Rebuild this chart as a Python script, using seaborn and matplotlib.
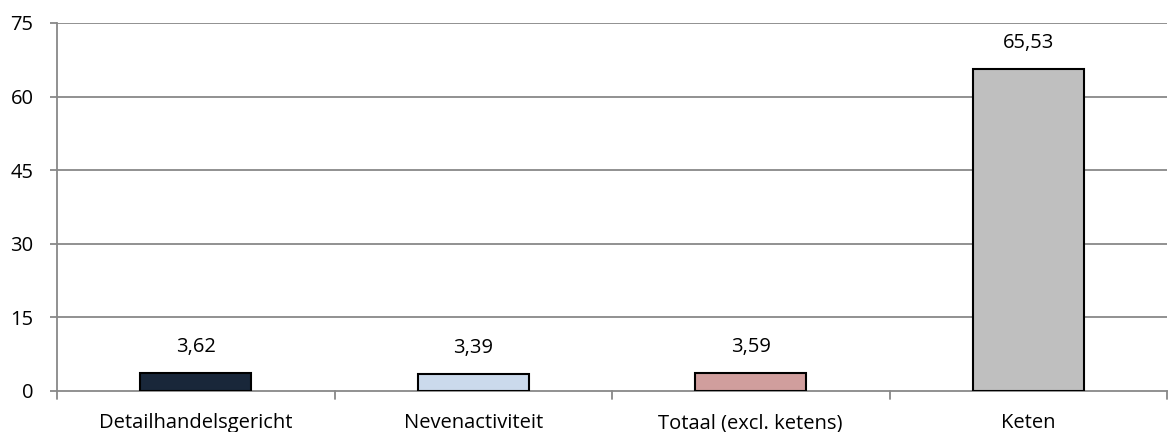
import matplotlib
matplotlib.use("Agg")
import matplotlib.pyplot as plt
import seaborn as sns
import pandas as pd
import numpy as np

categories = ["Detailhandelsgericht", "Nevenactiviteit", "Totaal (excl. ketens)", "Keten"]
values = [3.62, 3.39, 3.59, 65.53]
bar_colors = ["#14263F", "#C6D9F1", "#D99694", "#BFBFBF"]
y_ticks = [0, 15, 30, 45, 60, 75]

sns.set_theme(style="white")
plt.rcParams["font.family"] = ["Open Sans", "DejaVu Sans"]
plt.rcParams["text.color"] = "black"
plt.rcParams["xtick.color"] = "black"
plt.rcParams["ytick.color"] = "black"

df = pd.DataFrame({"cat": categories, "val": values})

fig = plt.figure(figsize=(11.68, 4.32), dpi=100)
ax = fig.add_axes([57 / 1168, 1 - 391 / 432, (1167 - 57) / 1168, (391 - 23) / 432])

sns.barplot(data=df, x="cat", y="val", hue="cat", palette=bar_colors, legend=False,
            width=0.40, edgecolor="black", linewidth=1.5, ax=ax, zorder=3)

grid_c = "#888888"
fs = 14.5
ax.set_ylim(0, 75)
ax.set_xlim(-0.5, len(categories) - 0.5)
ax.set_yticks(y_ticks)
ax.set_yticklabels([str(t) for t in y_ticks])
for t in y_ticks[1:]:
    ax.axhline(t, color=grid_c, linewidth=1.3, zorder=1)

ax.set_xticks(np.arange(len(categories)))
ax.set_xticklabels(categories)
ax.tick_params(axis="x", length=0, pad=16, labelsize=fs, labelcolor="black")
ax.tick_params(axis="y", length=5, width=1.3, color=grid_c, pad=12, labelsize=fs,
               labelcolor="black", left=True)

# category separators below the axis
for b in np.arange(-0.5, len(categories), 1.0):
    ax.plot([b, b], [0, -0.022], transform=ax.get_xaxis_transform(), color=grid_c,
            linewidth=1.3, clip_on=False)

for side in ["top", "right"]:
    ax.spines[side].set_visible(False)
ax.spines["left"].set_color(grid_c)
ax.spines["left"].set_linewidth(1.3)
ax.spines["bottom"].set_color(grid_c)
ax.spines["bottom"].set_linewidth(1.3)

for i, v in enumerate(values):
    ax.text(i, v + 5.4, f"{v:.2f}".replace(".", ","), ha="center", va="center",
            fontsize=fs, color="black")

ax.set_xlabel("")
ax.set_ylabel("")
fig.savefig("out.png", dpi=100)
